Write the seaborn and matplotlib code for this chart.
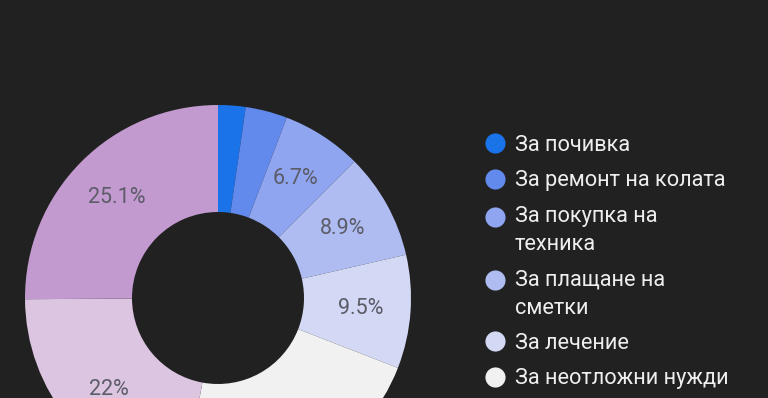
import matplotlib.pyplot as plt
import seaborn as sns
from matplotlib.lines import Line2D
from matplotlib.legend_handler import HandlerLine2D

# Data
labels = ['За почивка', 'За ремонт на колата', 'За покупка на\nтехника',
          'За плащане на\nсметки', 'За лечение', 'За неотложни нужди',
          'Друго', 'Други']
shares = [2.3, 3.5, 6.7, 8.9, 9.5, 22.0, 22.0, 25.1]
colors = ['#1a73e8', '#6289ec', '#8fa5ef', '#aebcf1', '#d3d8f5',
          '#f1f1f1', '#dcc5e0', '#c29acf']
n_legend = 6  # entries visible in the picture

bg = '#212121'
sns.set_theme(style='dark', rc={'figure.facecolor': bg, 'axes.facecolor': bg,
                                'savefig.facecolor': bg})
plt.rcParams['font.family'] = ['Roboto', 'DejaVu Sans']


def pct(v):
    if v < 5:
        return ''
    return f'{v:.1f}'.rstrip('0').rstrip('.') + '%'


class FirstLineHandler(HandlerLine2D):
    # put the marker of a wrapped label next to its first line
    def create_artists(self, legend, orig_handle, xdescent, ydescent,
                       width, height, fontsize, trans):
        return super().create_artists(legend, orig_handle, xdescent,
                                      ydescent - 20.2, width, height,
                                      fontsize, trans)


fig = plt.figure(figsize=(7.68, 3.98), dpi=100)
ax = fig.add_axes([0, 0, 1, 1])
ax.set_facecolor(bg)

wedges, texts, autotexts = ax.pie(
    shares, colors=colors, startangle=90, counterclock=False,
    center=(218, 100), radius=193, autopct=pct, pctdistance=0.74,
    wedgeprops=dict(width=107, linewidth=0),
    textprops=dict(color='#5c5c68', fontsize=15.5))

ax.set_xlim(0, 768)
ax.set_ylim(0, 398)
ax.set_aspect('equal')
ax.axis('off')

handles = [Line2D([], [], marker='o', linestyle='', markersize=14.5,
                  markerfacecolor=c, markeredgewidth=0)
           for c in colors[:n_legend]]
hmap = {h: FirstLineHandler() for h, l in zip(handles, labels) if '\n' in l}
leg = ax.legend(handles, labels[:n_legend], loc='upper left',
                bbox_to_anchor=(484, 398 - 135), bbox_transform=ax.transData,
                frameon=False, fontsize=15.7, labelcolor='#eeeeee',
                handlelength=1.0, handletextpad=0.42, labelspacing=0.66,
                borderpad=0, borderaxespad=0, handler_map=hmap)
for t in leg.get_texts():
    t.set_linespacing(1.45)

fig.savefig('out.png', dpi=100, facecolor=bg)
